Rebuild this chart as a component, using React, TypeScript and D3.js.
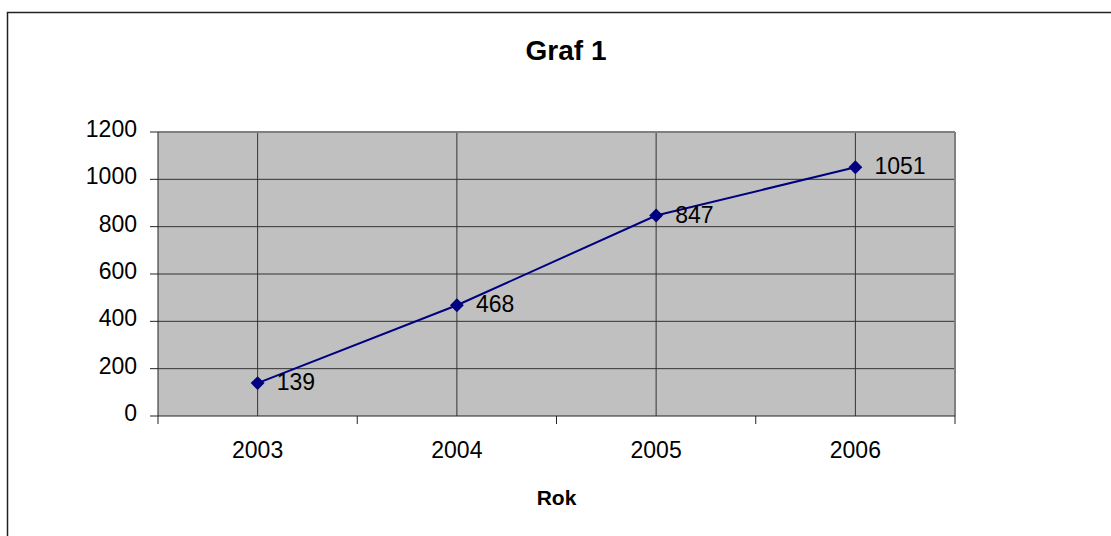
import React from "react";
import * as d3 from "d3";

const categories = ["2003", "2004", "2005", "2006"];
const values = [139, 468, 847, 1051];
const yTicks = [0, 200, 400, 600, 800, 1000, 1200];
const title = "Graf 1";
const xTitle = "Rok";

export default function App() {
  const W = 1111, H = 536;
  const left = 158, right = 955, top = 132, bottom = 416;
  const x = d3.scaleBand<string>().domain(categories).range([left, right]).padding(0);
  const y = d3.scaleLinear().domain([0, 1200]).range([bottom, top]);
  const cx = (c: string) => (x(c) as number) + x.bandwidth() / 2;
  const line = d3.line<number>().x((_, i) => cx(categories[i])).y((v) => y(v));
  const font = "Arial, 'Liberation Sans', sans-serif";
  const boundaries = categories.map((c) => x(c) as number).concat([right]);
  const diamond = d3.symbol().type(d3.symbolSquare).size(96)();
  return (
    <svg width={W} height={H} style={{ position: "absolute", left: 0, top: 0 }} fontFamily={font}>
      <rect x={0} y={0} width={W} height={H} fill="#fff" />
      <rect x={7.5} y={12.5} width={1115} height={540} fill="#fff" stroke="#222" strokeWidth={1.5} />
      <text x={566} y={60} textAnchor="middle" fontSize={28} fontWeight="bold">{title}</text>
      <rect x={left} y={top} width={right - left} height={bottom - top} fill="#C0C0C0" />
      {yTicks.filter((t) => t > 0 && t < 1200).map((t) => (
        <line key={"h" + t} x1={left} x2={right} y1={y(t)} y2={y(t)} stroke="#333" strokeWidth={1} />
      ))}
      {categories.map((c) => (
        <line key={"v" + c} x1={cx(c)} x2={cx(c)} y1={top} y2={bottom} stroke="#333" strokeWidth={1} />
      ))}
      <line x1={left} x2={right} y1={top} y2={top} stroke="#808080" strokeWidth={2} />
      <line x1={right} x2={right} y1={top} y2={bottom} stroke="#808080" strokeWidth={2} />
      <line x1={left} x2={left} y1={top} y2={bottom} stroke="#222" strokeWidth={1} />
      <line x1={left} x2={right} y1={bottom} y2={bottom} stroke="#222" strokeWidth={1} />
      {yTicks.map((t) => (
        <g key={"y" + t}>
          <line x1={left - 8} x2={left} y1={y(t)} y2={y(t)} stroke="#222" />
          <text x={137} y={y(t) + 5} textAnchor="end" fontSize={23}>{t}</text>
        </g>
      ))}
      {boundaries.map((b, i) => (
        <line key={"xt" + i} x1={b} x2={b} y1={bottom} y2={bottom + 8} stroke="#222" />
      ))}
      {categories.map((c) => (
        <text key={"xl" + c} x={cx(c)} y={458} textAnchor="middle" fontSize={23}>{c}</text>
      ))}
      <text x={(left + right) / 2} y={505} textAnchor="middle" fontSize={21} fontWeight="bold">{xTitle}</text>
      <path d={line(values) as string} fill="none" stroke="#000080" strokeWidth={2} />
      {values.map((v, i) => (
        <g key={"p" + i}>
          <path d={diamond as string} transform={`translate(${cx(categories[i])},${y(v)}) rotate(45)`} fill="#000080" />
          <text x={cx(categories[i]) + 19} y={y(v) + 7} fontSize={23}>{v}</text>
        </g>
      ))}
    </svg>
  );
}
